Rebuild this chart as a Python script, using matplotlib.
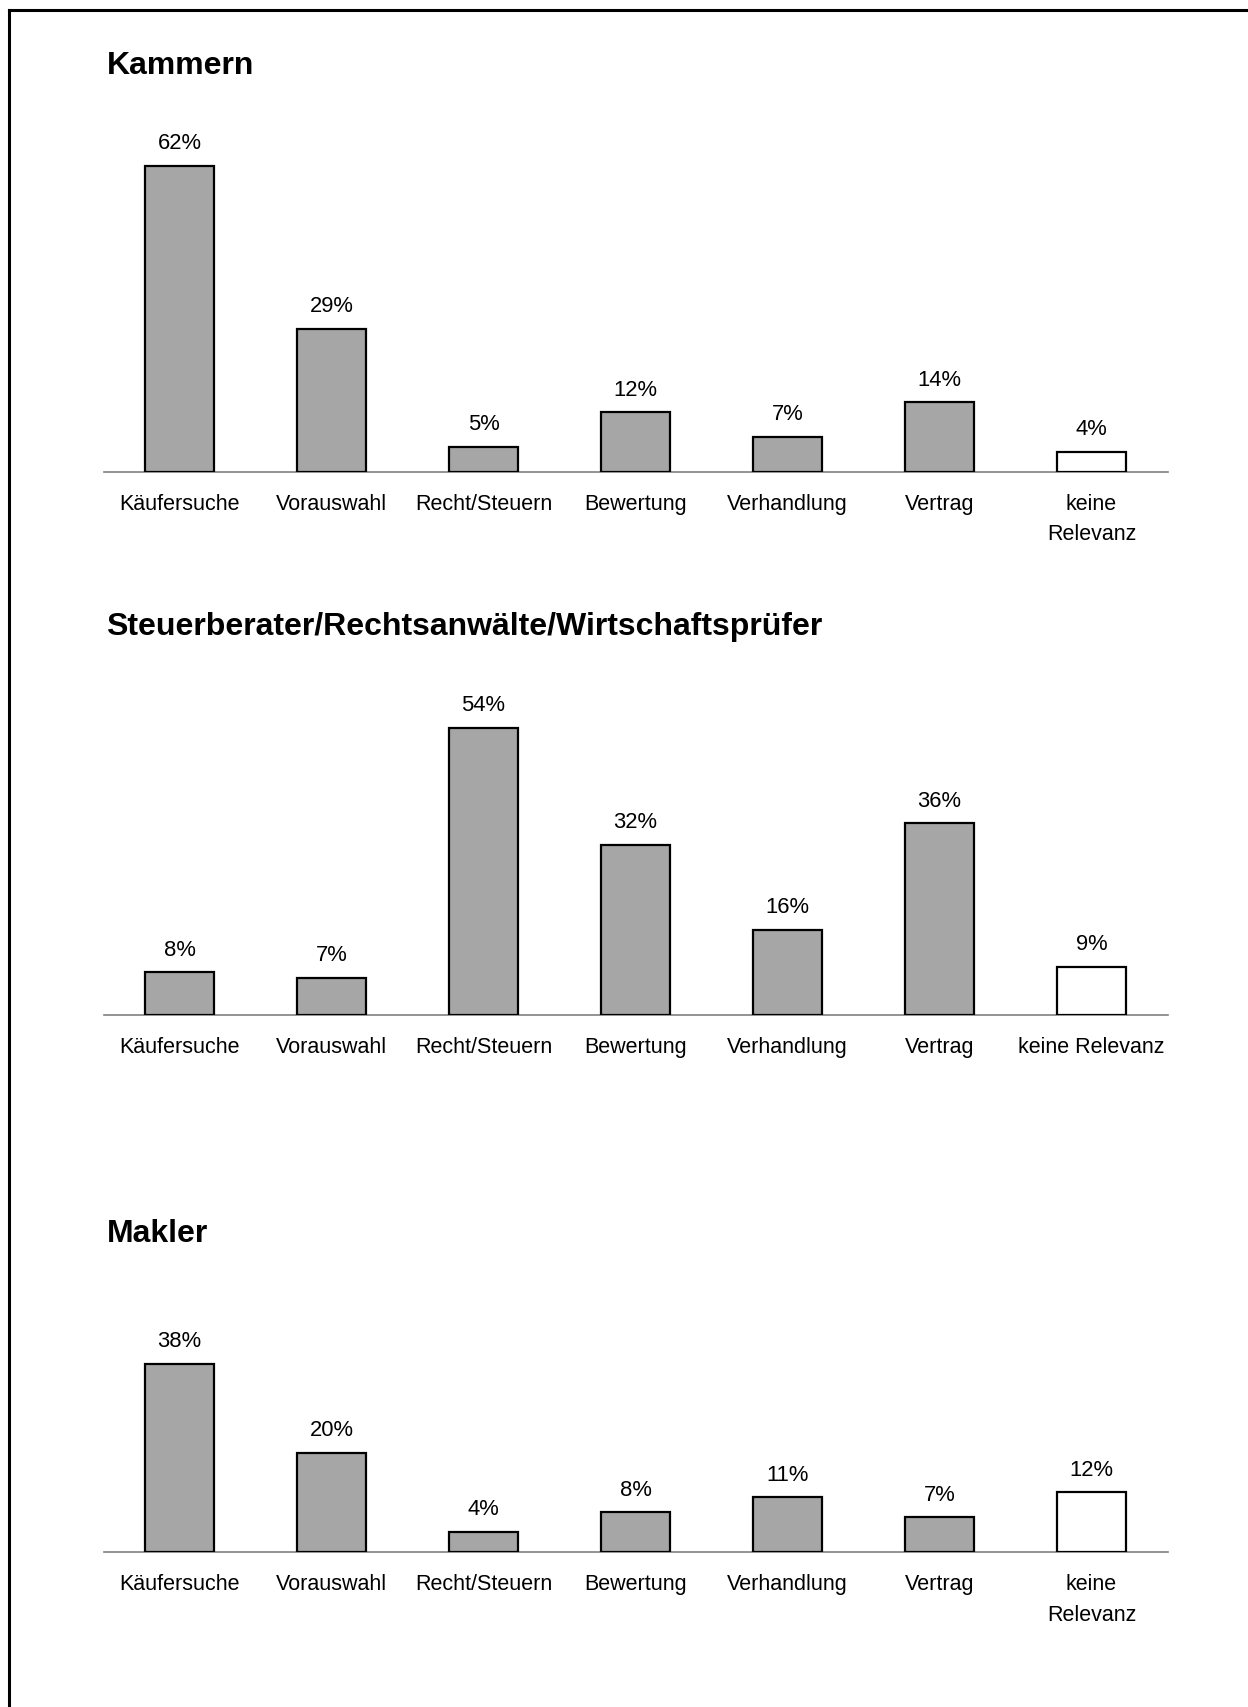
import matplotlib
matplotlib.use("Agg")
import matplotlib.pyplot as plt
from matplotlib.lines import Line2D

plt.rcParams["font.family"] = ["Liberation Sans", "DejaVu Sans"]

CATEGORIES = ["Käufersuche", "Vorauswahl", "Recht/Steuern", "Bewertung",
              "Verhandlung", "Vertrag", "keine\nRelevanz"]
CATEGORIES_ONE_LINE = CATEGORIES[:-1] + ["keine Relevanz"]

KAMMERN = [62, 29, 5, 12, 7, 14, 4]
BERATER = [8, 7, 54, 32, 16, 36, 9]
MAKLER = [38, 20, 4, 8, 11, 7, 12]

TITLES = ["Kammern", "Steuerberater/Rechtsanwälte/Wirtschaftsprüfer", "Makler"]

W, H = 1248, 1707
GREY = "#a6a6a6"

fig = plt.figure(figsize=(W / 100, H / 100), dpi=100)

# frame (top + left only)
fig.add_artist(Line2D([9 / W, 9 / W], [0, 1 - 10 / H], color="black", lw=2.2,
                      transform=fig.transFigure))
fig.add_artist(Line2D([9 / W, 1], [1 - 10 / H, 1 - 10 / H], color="black", lw=2.2,
                      transform=fig.transFigure))

# (values, labels, baseline px from top, px per %, ymax, title y px)
panels = [
    (KAMMERN, CATEGORIES, 471.5, 4.93, 70, 66),
    (BERATER, CATEGORIES_ONE_LINE, 1015, 5.32, 60, 627),
    (MAKLER, CATEGORIES, 1552, 4.96, 42, 1233.5),
]

left, right = 103.5 / W, 1167.5 / W

for (vals, labels, base, ppp, ymax, ty), title in zip(panels, TITLES):
    h_px = ymax * ppp
    ax = fig.add_axes([left, (H - base) / H, right - left, h_px / H])
    x = list(range(len(vals)))
    colors = [GREY] * (len(vals) - 1) + ["white"]
    ax.bar(x, vals, width=0.45, color=colors, edgecolor="black", linewidth=1.6,
           zorder=3)
    for xi, v in zip(x, vals):
        ax.annotate(f"{v}%", xy=(xi, v), xytext=(0, 16), textcoords="offset points",
                    ha="center", va="center", fontsize=15.8)
    ax.set_xlim(-0.5, 6.5)
    ax.set_ylim(0, ymax)
    ax.set_xticks(x)
    ax.set_xticklabels(labels, fontsize=15.5, linespacing=1.6)
    ax.tick_params(axis="x", length=0, pad=16)
    ax.set_yticks([])
    for s in ["top", "right", "left"]:
        ax.spines[s].set_visible(False)
    ax.spines["bottom"].set_color("#808080")
    ax.spines["bottom"].set_linewidth(1.2)
    ax.patch.set_alpha(0)
    fig.text(106.5 / W, 1 - ty / H, title, fontsize=23, fontweight="bold",
             ha="left", va="center")

fig.savefig("out.png", dpi=100)
